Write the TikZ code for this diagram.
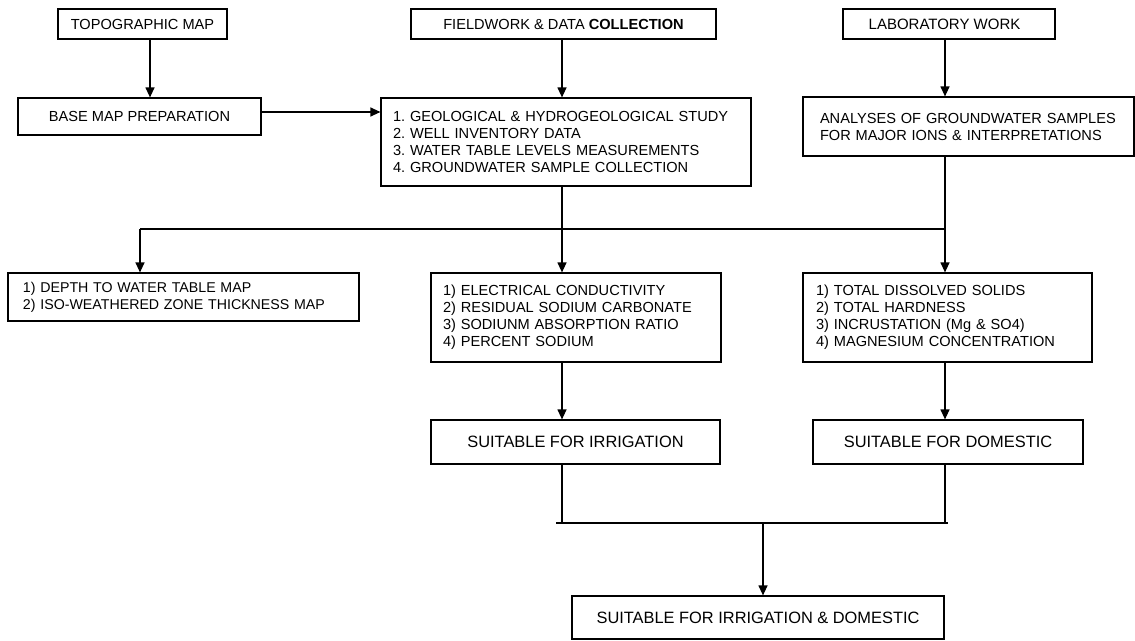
\documentclass[tikz,border=0pt]{standalone}
\usepackage{fontspec}
\setmainfont{Liberation Sans}
\usetikzlibrary{arrows.meta,calc}
\frenchspacing
\tikzset{
  box/.style={draw, line width=1.2pt, inner xsep=0pt, inner ysep=0pt, align=center,
    font=\fontsize{14.6}{17}\selectfont},
  bigbox/.style={box, font=\fontsize{16.4}{19}\selectfont},
  listbox/.style={draw, line width=1.2pt, inner ysep=0pt, align=left,
    font=\fontsize{14.6}{17}\selectfont},
  conn/.style={line width=1.2pt},
  arr/.style={line width=1.2pt, -{Triangle[length=10pt,width=9pt]}}
}
\begin{document}
\begin{tikzpicture}[x=1pt,y=-1pt]
\useasboundingbox (0,0) rectangle (1135,640);
% top row
\node[box, minimum width=169pt, minimum height=30pt] (topo) at (142.5,24) {TOPOGRAPHIC MAP};
\node[box, minimum width=305pt, minimum height=30pt] (field) at (563.5,24) {FIELDWORK \& DATA \textbf{COLLECTION}};
\node[box, minimum width=212pt, minimum height=30pt, font=\fontsize{15}{17}\selectfont] (lab) at (949,24) {LABORATORY WORK\hspace*{9pt}};
% second row
\node[box, minimum width=243pt, minimum height=37pt] (base) at (139.5,116.5) {BASE MAP PREPARATION};
\node[listbox, inner xsep=12pt, text width=346pt, minimum height=88pt] (geo) at (566,142)
  {1. GEOLOGICAL \& HYDROGEOLOGICAL STUDY\\2. WELL INVENTORY DATA\\3. WATER TABLE LEVELS MEASUREMENTS\\4. GROUNDWATER SAMPLE COLLECTION};
\node[listbox, inner xsep=17pt, text width=297pt, minimum height=59pt] (anal) at (968.5,126.5)
  {ANALYSES OF GROUNDWATER SAMPLES\\FOR MAJOR IONS \& INTERPRETATIONS};
% third row
\node[listbox, inner xsep=15pt, text width=321pt, minimum height=48pt, font=\fontsize{14.2}{17}\selectfont] (depth) at (183.5,297)
  {1) DEPTH TO WATER TABLE MAP\\2) ISO-WEATHERED ZONE THICKNESS MAP};
\node[listbox, inner xsep=12pt, text width=266pt, minimum height=89pt] (elec) at (576,317.5)
  {1) ELECTRICAL CONDUCTIVITY\\2) RESIDUAL SODIUM CARBONATE\\3) SODIUNM ABSORPTION RATIO\\4) PERCENT SODIUM};
\node[listbox, inner xsep=13pt, text width=263pt, minimum height=89pt] (tds) at (947.5,317.5)
  {1) TOTAL DISSOLVED SOLIDS\\2) TOTAL HARDNESS\\3) INCRUSTATION (Mg \& SO4)\\4) MAGNESIUM CONCENTRATION};
% fourth row
\node[bigbox, minimum width=289pt, minimum height=44pt] (irr) at (575.5,442) {SUITABLE FOR IRRIGATION};
\node[bigbox, minimum width=270pt, minimum height=44pt] (dom) at (948,442) {SUITABLE FOR DOMESTIC};
\node[bigbox, minimum width=372pt, minimum height=43pt] (both) at (758,617.5) {SUITABLE FOR IRRIGATION \& DOMESTIC};
% helper coordinates
\coordinate (xt) at (150,0);
\coordinate (xm) at (562,0);
\coordinate (xr) at (945,0);
\coordinate (jr) at (945,229);
\coordinate (jl) at (140,229);
\coordinate (bl) at (556,523);
\coordinate (br) at (948,523);
\coordinate (bc) at (763,523);
% connectors
\draw[arr] (xt |- topo.south) -- (xt |- base.north);
\draw[arr] ([yshift=4.5pt]base.east) -- ([yshift=4.5pt]base.east -| geo.west);
\draw[arr] (xm |- field.south) -- (xm |- geo.north);
\draw[arr] (xr |- lab.south) -- (xr |- anal.north);
\draw[conn] (xr |- anal.south) -- (jr) -- (jl);
\draw[arr] (jl) -- (jl |- depth.north);
\draw[arr] (jr) -- (xr |- tds.north);
\draw[arr] (xm |- geo.south) -- (xm |- elec.north);
\draw[arr] (xm |- elec.south) -- (xm |- irr.north);
\draw[arr] (xr |- tds.south) -- (xr |- dom.north);
\draw[conn] (xm |- irr.south) -- (xm |- bl);
\draw[conn] (xr |- dom.south) -- (xr |- br);
\draw[conn] (bl) -- (br);
\draw[arr] (bc) -- (bc |- both.north);
\end{tikzpicture}
\end{document}
